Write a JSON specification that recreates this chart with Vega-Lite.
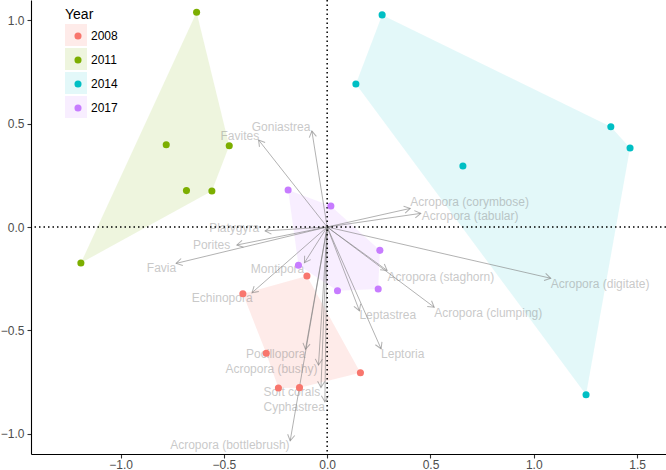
{
  "$schema": "https://vega.github.io/schema/vega-lite/v6.json",
  "width": 635,
  "height": 454,
  "autosize": {"type": "none"},
  "padding": {"left": 31, "top": 0, "right": 0, "bottom": 16},
  "background": "white",
  "config": {
    "view": {"stroke": null},
    "font": "Liberation Sans",
    "axis": {
      "domainColor": "black",
      "domainWidth": 1.1,
      "tickColor": "#333333",
      "tickWidth": 1.1,
      "tickSize": 4,
      "labelColor": "#4D4D4D",
      "labelFontSize": 12,
      "labelFont": "Liberation Sans",
      "grid": false
    },
    "axisX": {"labelPadding": 1},
    "axisY": {"labelPadding": 3}
  },
  "datasets": {
    "sites": [
      {"Year": "2008", "x": -0.098, "y": -0.237},
      {"Year": "2008", "x": -0.408, "y": -0.323},
      {"Year": "2008", "x": -0.295, "y": -0.611},
      {"Year": "2008", "x": -0.236, "y": -0.779},
      {"Year": "2008", "x": -0.134, "y": -0.777},
      {"Year": "2008", "x": 0.161, "y": -0.705},
      {"Year": "2011", "x": -0.632, "y": 1.039},
      {"Year": "2011", "x": -0.779, "y": 0.398},
      {"Year": "2011", "x": -0.474, "y": 0.393},
      {"Year": "2011", "x": -0.681, "y": 0.176},
      {"Year": "2011", "x": -0.558, "y": 0.174},
      {"Year": "2011", "x": -1.192, "y": -0.174},
      {"Year": "2014", "x": 0.266, "y": 1.026},
      {"Year": "2014", "x": 0.139, "y": 0.692},
      {"Year": "2014", "x": 1.373, "y": 0.485},
      {"Year": "2014", "x": 1.466, "y": 0.382},
      {"Year": "2014", "x": 0.657, "y": 0.295},
      {"Year": "2014", "x": 1.253, "y": -0.811},
      {"Year": "2017", "x": -0.189, "y": 0.179},
      {"Year": "2017", "x": 0.018, "y": 0.102},
      {"Year": "2017", "x": 0.255, "y": -0.113},
      {"Year": "2017", "x": -0.139, "y": -0.185},
      {"Year": "2017", "x": 0.05, "y": -0.308},
      {"Year": "2017", "x": 0.247, "y": -0.3}
    ],
    "hull": [
      {"Year": 2008, "v": 1, "x": -0.408, "y": -0.323},
      {"Year": 2008, "v": 2, "x": -0.098, "y": -0.237},
      {"Year": 2008, "v": 3, "x": 0.161, "y": -0.705},
      {"Year": 2008, "v": 4, "x": -0.134, "y": -0.777},
      {"Year": 2008, "v": 5, "x": -0.236, "y": -0.779},
      {"Year": 2008, "v": 6, "x": -0.295, "y": -0.611},
      {"Year": 2011, "v": 1, "x": -0.632, "y": 1.039},
      {"Year": 2011, "v": 2, "x": -0.474, "y": 0.393},
      {"Year": 2011, "v": 3, "x": -0.558, "y": 0.174},
      {"Year": 2011, "v": 4, "x": -1.192, "y": -0.174},
      {"Year": 2014, "v": 1, "x": 0.266, "y": 1.026},
      {"Year": 2014, "v": 2, "x": 1.373, "y": 0.485},
      {"Year": 2014, "v": 3, "x": 1.466, "y": 0.382},
      {"Year": 2014, "v": 4, "x": 1.253, "y": -0.811},
      {"Year": 2014, "v": 5, "x": 0.139, "y": 0.692},
      {"Year": 2017, "v": 1, "x": -0.189, "y": 0.179},
      {"Year": 2017, "v": 2, "x": 0.018, "y": 0.102},
      {"Year": 2017, "v": 3, "x": 0.255, "y": -0.113},
      {"Year": 2017, "v": 4, "x": 0.247, "y": -0.3},
      {"Year": 2017, "v": 5, "x": 0.05, "y": -0.308},
      {"Year": 2017, "v": 6, "x": -0.139, "y": -0.185}
    ],
    "species": [
      {"species": "Goniastrea", "ax": -0.074, "ay": 0.464, "lx": -0.081, "ly": 0.485},
      {"species": "Favites", "ax": -0.332, "ay": 0.421, "lx": -0.329, "ly": 0.44},
      {"species": "Acropora (corymbose)", "ax": 0.402, "ay": 0.09, "lx": 0.402, "ly": 0.122},
      {"species": "Acropora (tabular)", "ax": 0.453, "ay": 0.066, "lx": 0.458, "ly": 0.053},
      {"species": "Platygyra", "ax": -0.3, "ay": -0.019, "lx": -0.329, "ly": -0.006},
      {"species": "Porites", "ax": -0.437, "ay": -0.087, "lx": -0.469, "ly": -0.087},
      {"species": "Favia", "ax": -0.731, "ay": -0.176, "lx": -0.731, "ly": -0.2},
      {"species": "Montipora", "ax": -0.11, "ay": -0.173, "lx": -0.111, "ly": -0.203},
      {"species": "Echinopora", "ax": -0.364, "ay": -0.318, "lx": -0.361, "ly": -0.342},
      {"species": "Acropora (staghorn)", "ax": 0.29, "ay": -0.21, "lx": 0.292, "ly": -0.24},
      {"species": "Acropora (clumping)", "ax": 0.518, "ay": -0.388, "lx": 0.518, "ly": -0.418},
      {"species": "Acropora (digitate)", "ax": 1.082, "ay": -0.248, "lx": 1.082, "ly": -0.276},
      {"species": "Leptastrea", "ax": 0.156, "ay": -0.405, "lx": 0.156, "ly": -0.426},
      {"species": "Leptoria", "ax": 0.261, "ay": -0.589, "lx": 0.261, "ly": -0.613},
      {"species": "Pocillopora", "ax": -0.105, "ay": -0.592, "lx": -0.105, "ly": -0.614},
      {"species": "Acropora (bushy)", "ax": -0.042, "ay": -0.668, "lx": -0.047, "ly": -0.688},
      {"species": "Soft corals", "ax": -0.03, "ay": -0.776, "lx": -0.034, "ly": -0.8},
      {"species": "Cyphastrea", "ax": -0.011, "ay": -0.845, "lx": -0.011, "ly": -0.869},
      {"species": "Acropora (bottlebrush)", "ax": -0.179, "ay": -1.034, "lx": -0.182, "ly": -1.055}
    ],
    "origin": [{"x0": 0, "y0": 0}]
  },
  "layer": [
    {
      "data": {"name": "hull"},
      "mark": {"type": "line", "stroke": "transparent", "strokeWidth": 0, "interpolate": "linear-closed"},
      "encoding": {
        "x": {"field": "x", "type": "quantitative", "scale": {"domain": [-1.4335, 1.64], "nice": false, "zero": false}, "axis": {"title": null, "values": [-1, -0.5, 0, 0.5, 1, 1.5], "format": ".1f"}},
        "y": {"field": "y", "type": "quantitative", "scale": {"domain": [-1.098, 1.098], "nice": false, "zero": false}, "axis": {"title": null, "values": [-1, -0.5, 0, 0.5, 1], "format": ".1f"}},
        "order": {"field": "v", "type": "quantitative"},
        "fill": {
          "field": "Year", "type": "nominal",
          "scale": {"domain": [2008, 2011, 2014, 2017], "range": ["rgba(248,118,109,0.15)", "rgba(124,174,0,0.13)", "rgba(0,191,196,0.11)", "rgba(199,124,255,0.13)"]},
          "legend": {"orient": "none", "legendX": 34, "legendY": 8, "title": "Year", "titleFontSize": 14, "titleFont": "Liberation Sans", "titleFontWeight": "normal", "titleColor": "black", "titlePadding": 2, "symbolType": "square", "symbolSize": 484, "symbolStrokeWidth": 0, "labelExpr": "''", "rowPadding": 2, "zindex": 1}
        }
      }
    },
    {
      "data": {"name": "species"},
      "mark": {"type": "rule", "stroke": "#7f7f7f", "opacity": 0.6, "strokeWidth": 1},
      "encoding": {
        "x": {"field": "ax", "type": "quantitative"},
        "y": {"field": "ay", "type": "quantitative"},
        "x2": {"datum": 0},
        "y2": {"datum": 0}
      }
    },
    {
      "data": {"name": "species"},
      "mark": {"type": "point", "shape": "M-1,-0.6L0,0L-1,0.6", "filled": false, "stroke": "#7f7f7f", "opacity": 0.6, "strokeWidth": 1, "size": 144, "angle": {"expr": "atan2(-datum.ay, datum.ax) * 180 / PI"}},
      "encoding": {
        "x": {"field": "ax", "type": "quantitative"},
        "y": {"field": "ay", "type": "quantitative"}
      }
    },
    {
      "data": {"name": "species"},
      "mark": {"type": "text", "fontSize": 12, "font": "Liberation Sans", "color": "#7f7f7f", "opacity": 0.42, "baseline": "middle", "align": {"expr": "datum.ax > 0 ? 'left' : 'right'"}},
      "encoding": {
        "x": {"field": "lx", "type": "quantitative"},
        "y": {"field": "ly", "type": "quantitative"},
        "text": {"field": "species"}
      }
    },
    {
      "data": {"name": "origin"},
      "mark": {"type": "rule", "color": "black", "strokeWidth": 1.5, "strokeDash": [1.5, 3]},
      "encoding": {"x": {"field": "x0", "type": "quantitative"}}
    },
    {
      "data": {"name": "origin"},
      "mark": {"type": "rule", "color": "black", "strokeWidth": 1.5, "strokeDash": [1.5, 3]},
      "encoding": {"y": {"field": "y0", "type": "quantitative"}}
    },
    {
      "data": {"name": "sites"},
      "mark": {"type": "point", "filled": true, "size": 50, "opacity": 1, "shape": "circle"},
      "encoding": {
        "x": {"field": "x", "type": "quantitative"},
        "y": {"field": "y", "type": "quantitative"},
        "color": {
          "field": "Year", "type": "nominal",
          "scale": {"domain": ["2008", "2011", "2014", "2017"], "range": ["#F8766D", "#7CAE00", "#00BFC4", "#C77CFF"]},
          "legend": {"orient": "none", "legendX": 41, "legendY": 30, "title": null, "symbolType": "circle", "symbolSize": 50, "symbolStrokeWidth": 0, "symbolOpacity": 1, "labelFontSize": 12, "labelFont": "Liberation Sans", "labelColor": "black", "labelOffset": 7, "rowPadding": 12, "zindex": 2}
        }
      }
    }
  ]
}
